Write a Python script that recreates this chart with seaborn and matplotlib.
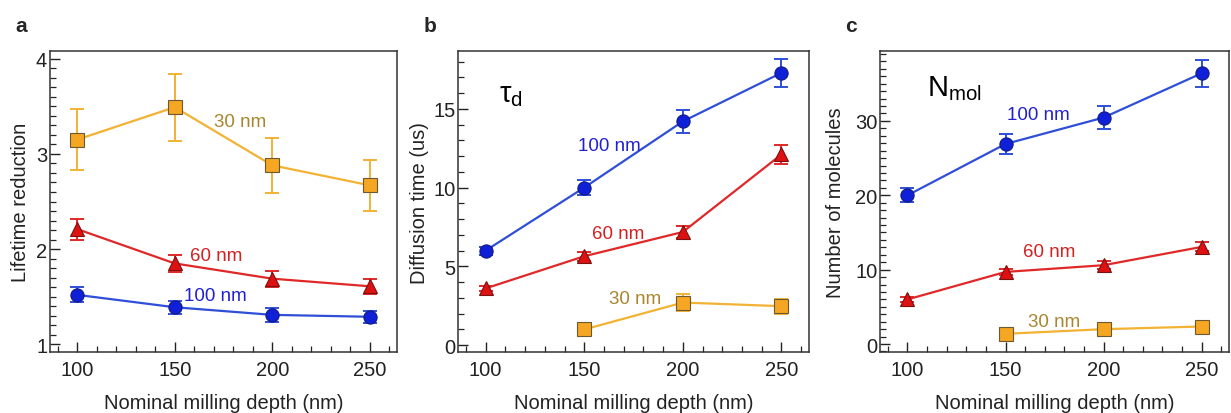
import numpy as np
import pandas as pd
import matplotlib
matplotlib.use('Agg')
import matplotlib.pyplot as plt
from matplotlib.ticker import MultipleLocator
import seaborn as sns

sns.set_theme(style='ticks')
plt.rcParams['font.family'] = ['Liberation Sans', 'DejaVu Sans']

depth = [100, 150, 200, 250]
depth_30 = [150, 200, 250]

# panel a - lifetime reduction
life_30 = [3.15, 3.49, 2.88, 2.67]
life_30_err = [0.32, 0.35, 0.29, 0.27]
life_60 = [2.21, 1.85, 1.69, 1.61]
life_60_err = [0.11, 0.09, 0.085, 0.08]
life_100 = [1.52, 1.39, 1.31, 1.29]
life_100_err = [0.08, 0.07, 0.07, 0.065]

# panel b - diffusion time
diff_100 = [6.0, 10.0, 14.2, 17.28]
diff_100_err = [0.25, 0.5, 0.74, 0.87]
diff_60 = [3.6, 5.64, 7.18, 12.1]
diff_60_err = [0.15, 0.3, 0.37, 0.63]
diff_30 = [0.99, 2.70, 2.47]
diff_30_err = [0.1, 0.53, 0.48]

# panel c - number of molecules
nmol_100 = [20.0, 26.9, 30.45, 36.4]
nmol_100_err = [0.95, 1.4, 1.5, 1.85]
nmol_60 = [6.0, 9.7, 10.6, 13.06]
nmol_60_err = [0.3, 0.4, 0.5, 0.6]
nmol_30 = [1.38, 2.0, 2.36]
nmol_30_err = [0.2, 0.2, 0.2]

styles = {
    '30 nm': dict(line='#f2b233', face='#f5a623', edge='#6b5a30', marker='s', text='#a8862e'),
    '60 nm': dict(line='#e02828', face='#dd1111', edge='#7a1010', marker='^', text='#d42020'),
    '100 nm': dict(line='#2f4fd8', face='#1020d8', edge='#101a80', marker='o', text='#2020d0'),
}


def make_df(series):
    rows = []
    for name, xs, ys, es in series:
        for x, y, e in zip(xs, ys, es):
            rows.append({'depth': x, 'value': y, 'err': e, 'size': name})
    return pd.DataFrame(rows)


panels = [
    dict(df=make_df([('30 nm', depth, life_30, life_30_err),
                     ('60 nm', depth, life_60, life_60_err),
                     ('100 nm', depth, life_100, life_100_err)]),
         ylabel='Lifetime reduction', ylim=(0.92, 4.08), major=1, minor=0.1,
         labels={'30 nm': (170, 3.34), '60 nm': (158, 1.93), '100 nm': (155, 1.51)},
         letter='a', pos=[0.0406, 0.1473, 0.2819, 0.7271], ylab_x=0.017),
    dict(df=make_df([('30 nm', depth_30, diff_30, diff_30_err),
                     ('60 nm', depth, diff_60, diff_60_err),
                     ('100 nm', depth, diff_100, diff_100_err)]),
         ylabel='Diffusion time (us)', ylim=(-0.44, 18.67), major=5, minor=1,
         labels={'30 nm': (162.5, 2.96), '60 nm': (154, 7.08), '100 nm': (147, 12.68)},
         letter='b', pos=[0.3721, 0.1473, 0.2851, 0.7271], ylab_x=0.341,
         big=('$\\mathregular{\\tau_d}$', 107, 15.95)),
    dict(df=make_df([('30 nm', depth_30, nmol_30, nmol_30_err),
                     ('60 nm', depth, nmol_60, nmol_60_err),
                     ('100 nm', depth, nmol_100, nmol_100_err)]),
         ylabel='Number of molecules', ylim=(-1.07, 39.4), major=10, minor=1,
         labels={'30 nm': (161.6, 3.1), '60 nm': (159, 12.4), '100 nm': (151, 30.9)},
         letter='c', pos=[0.7149, 0.1473, 0.2835, 0.7271], ylab_x=0.679,
         big=('N$\\mathregular{_{mol}}$', 110, 34.46)),
]

fig = plt.figure(figsize=(12.31, 4.14), dpi=100)

for p in panels:
    ax = fig.add_axes(p['pos'])
    df = p['df']
    for name in ['30 nm', '60 nm', '100 nm']:
        st = styles[name]
        sub = df[df['size'] == name]
        ax.errorbar(sub['depth'], sub['value'], yerr=sub['err'], fmt='none',
                    ecolor=st['line'], elinewidth=1.4, capsize=5, capthick=1.4, zorder=2)
        sns.lineplot(data=sub, x='depth', y='value', ax=ax, color=st['line'],
                     linewidth=1.6, marker=st['marker'], markersize=9.5,
                     markerfacecolor=st['face'], markeredgecolor=st['edge'],
                     markeredgewidth=0.8, zorder=3)
        lx, ly = p['labels'][name]
        ax.text(lx, ly, name, color=st['text'], fontsize=13.5, va='center', ha='left')
    if 'big' in p:
        txt, bx, by = p['big']
        ax.text(bx, by, txt, fontsize=21, va='center', ha='left', color='black')

    ax.set_xlim(86, 264)
    ax.set_ylim(*p['ylim'])
    ax.set_xticks(depth)
    ax.xaxis.set_minor_locator(MultipleLocator(10))
    ax.yaxis.set_major_locator(MultipleLocator(p['major']))
    ax.yaxis.set_minor_locator(MultipleLocator(p['minor']))
    ax.tick_params(which='both', direction='in', color='#222222', labelsize=14.5,
                   labelcolor='#222222')
    ax.tick_params(which='major', length=7, width=1.0, pad=2)
    ax.tick_params(which='minor', length=4, width=0.9)
    ax.tick_params(axis='x', pad=6)
    for sp in ax.spines.values():
        sp.set_linewidth(1.1)
        sp.set_color('#333333')
    ax.set_xlabel('Nominal milling depth (nm)', fontsize=14.5, labelpad=10,
                  color='#222222')
    ax.set_ylabel('')
    fig.text(p['ylab_x'], 0.51, p['ylabel'], rotation=90, fontsize=14.5,
             va='center', ha='center', color='#222222')
    fig.text(p['pos'][0] - 0.028, 0.935, p['letter'], fontsize=15,
             fontweight='bold', va='center', ha='left')

fig.savefig('out.png', dpi=100)
